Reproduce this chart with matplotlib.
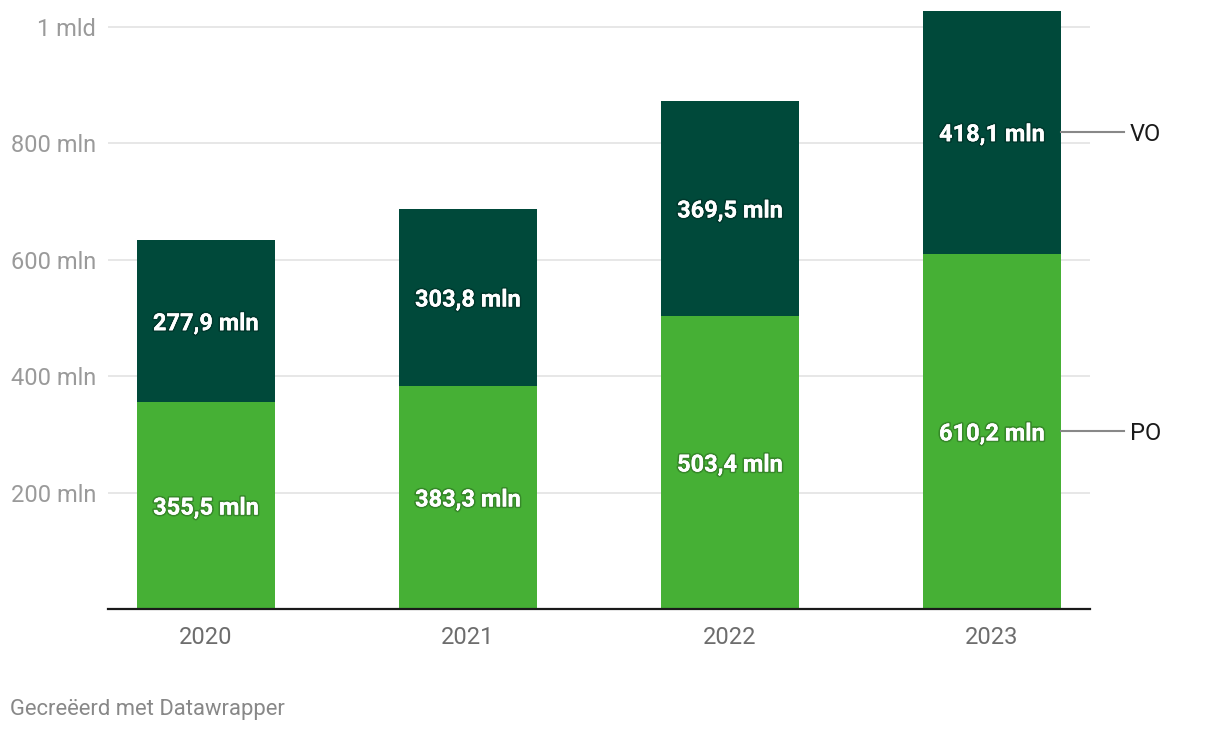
import matplotlib.pyplot as plt
import matplotlib.patheffects as pe
import numpy as np

plt.rcParams['font.family'] = ['Roboto', 'DejaVu Sans']

years = ['2020', '2021', '2022', '2023']
po = [355.5, 383.3, 503.4, 610.2]
vo = [277.9, 303.8, 369.5, 418.1]
y_ticks = [200, 400, 600, 800, 1000]
y_tick_labels = ['200 mln', '400 mln', '600 mln', '800 mln', '1 mld']

light = '#46b035'
dark = '#00493a'

fig = plt.figure(figsize=(12.2, 7.32), dpi=100)
ax = fig.add_axes([108 / 1220, (732 - 609) / 732, (1090 - 108) / 1220, (609 - 10) / 732])

x = np.arange(len(years))
w = 0.527
ax.bar(x, po, w, color=light, zorder=2)
ax.bar(x, vo, w, bottom=po, color=dark, zorder=2)

shadow = [pe.withStroke(linewidth=2.5, foreground=(0, 0, 0, 0.22)), pe.Normal()]
for i in range(len(years)):
    ax.text(x[i], po[i] / 2, f"{po[i]:.1f} mln".replace('.', ','), ha='center', va='center_baseline',
            color='white', fontsize=17, fontweight='bold', zorder=3, path_effects=shadow)
    ax.text(x[i], po[i] + vo[i] / 2, f"{vo[i]:.1f} mln".replace('.', ','), ha='center',
            va='center_baseline', color='white', fontsize=17, fontweight='bold', zorder=3,
            path_effects=shadow)

ax.set_xlim(-0.374, 3.374)
ax.set_ylim(0, 599 / 0.582)
ax.set_yticks(y_ticks)
ax.set_yticklabels(y_tick_labels)
ax.set_xticks(x)
ax.set_xticklabels(years)
ax.grid(axis='y', color='#e3e3e3', linewidth=1.2, zorder=0)
ax.tick_params(axis='y', length=0, pad=8.5, labelsize=17, labelcolor='#9a9a9a')
ax.tick_params(axis='x', length=0, pad=12, labelsize=17, labelcolor='#6d6d6d')
for s in ['top', 'right', 'left']:
    ax.spines[s].set_visible(False)
ax.spines['bottom'].set_color('#1a1a1a')
ax.spines['bottom'].set_linewidth(1.6)
ax.spines['bottom'].set_zorder(4)

# series labels on the right, linked to the last bar
last = len(years) - 1
for name, yv in [('PO', po[last] / 2), ('VO', po[last] + vo[last] / 2)]:
    ax.plot([x[last] + w / 2, x[last] + w / 2 + 63 / 262], [yv, yv], color='#888888',
            linewidth=1.5, clip_on=False, zorder=3)
    ax.text(x[last] + w / 2 + 69 / 262, yv, name, ha='left', va='center_baseline', fontsize=17,
            color='#1a1a1a', clip_on=False)

fig.text(10 / 1220, 1 - 709 / 732, 'Gecreëerd met Datawrapper', ha='left', va='center',
         fontsize=15.8, color='#888888')

fig.savefig('out.png', dpi=100)
